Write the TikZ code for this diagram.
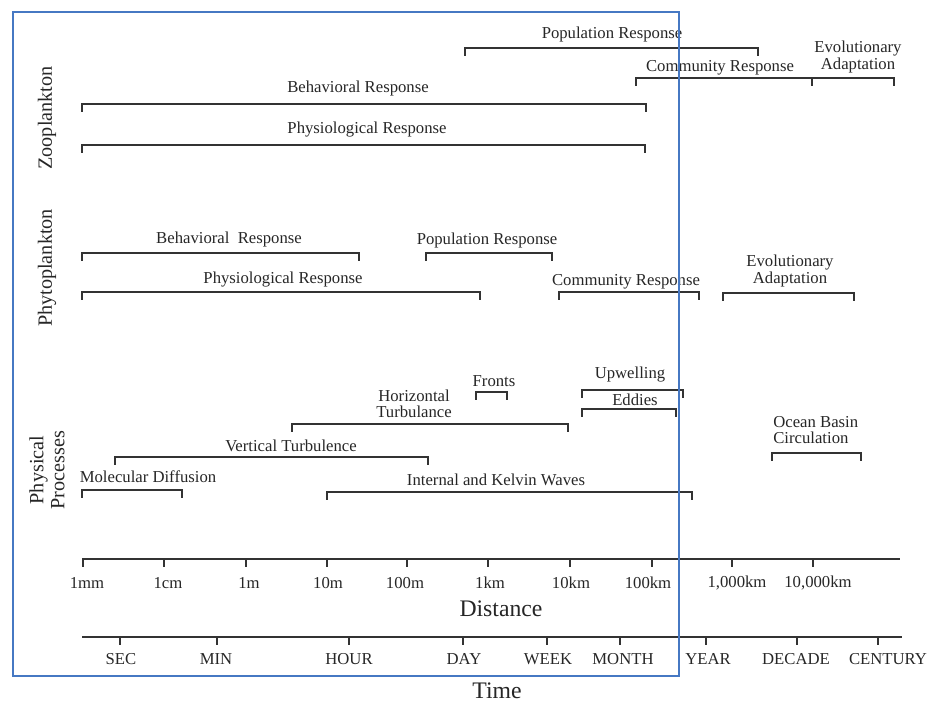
\documentclass[tikz,border=0pt]{standalone}
\usepackage{fontspec}
\setmainfont{Liberation Serif}
\usetikzlibrary{positioning}

\definecolor{frameblue}{RGB}{70,120,195}
\newcommand{\lblfont}{\fontsize{9.5}{9.2}\selectfont}
\newcommand{\axfont}{\fontsize{13.5}{14}\selectfont}
\newcommand{\sidefont}{\fontsize{11.5}{12}\selectfont}

\begin{document}
\begin{tikzpicture}[x=0.02cm,y=-0.02cm,
        span/.style={line width=0.8pt,draw=black!80},
        label node/.style={font=\lblfont,inner sep=0pt,align=center,text=black!85},
        side node/.style={font=\sidefont,inner sep=0pt,align=center,rotate=90,text=black!85},
        axis node/.style={font=\axfont,inner sep=0pt,text=black!85}]

        \useasboundingbox (0,0) rectangle (937,702);

        % Define ranges
        \foreach \n/\a/\b/\y in {zpop/465/758/48, zcom/636/812/78, zevo/812/894/78,
                zbeh/82/646/104, zphy/82/645/145,
                pbeh/82/359/253, pphy/82/480/292, ppop/426/552/253,
                pcom/559/699/292, pevo/723/854/293,
                mdif/82/182/490, vtur/115/428/457, htur/292/568/424,
                frnt/476/507/392, upw/582/683/390, edd/582/676/409,
                ikw/327/692/492, obc/772/861/453} {
            \coordinate (\n L) at (\a,\y);
            \coordinate (\n R) at (\b,\y);
            \draw[span] (\n L) ++(0,8) -- (\n L) -- (\n R) -- ++(0,8);
        }

        % Zooplankton
        \node[side node] (zoo) at (47,118) {Zooplankton};
        \node[label node] (zpopT) at (612,34) {Population Response};
        \node[label node] (zcomT) at (720,68) {Community Response};
        \node[label node] (zevoT) at (858,57) {Evolutionary\\Adaptation};
        \node[label node] (zbehT) at (358,88) {Behavioral Response};
        \node[label node] (zphyT) at (367,130) {Physiological Response};

        % Phytoplankton
        \node[side node] (phyto) at (47,268) {Phytoplankton};
        \node[label node] (pbehT) at (229,239) {Behavioral\ \ Response};
        \node[label node] (pphyT) at (283,280) {Physiological Response};
        \node[label node] (ppopT) at (487,240) {Population Response};
        \node[label node] (pcomT) at (626,282) {Community Response};
        \node[label node] (pevoT) at (790,271) {Evolutionary\\Adaptation};

        % Physical processes
        \node[side node] (phys) at (47,470) {Physical\\Processes};
        \node[label node] (mdifT) at (148,477) {Molecular Diffusion};
        \node[label node] (vturT) at (291,446) {Vertical Turbulence};
        \node[label node] (hturT) at (414,404) {Horizontal\\Turbulance};
        \node[label node] (frntT) at (494,381) {Fronts};
        \node[label node] (upwT) at (630,375) {Upwelling};
        \node[label node] (eddT) at (635,400) {Eddies};
        \node[label node] (ikwT) at (496,480) {Internal and Kelvin Waves};
        \node[label node,align=left,anchor=west] (obcT) at (773,430) {Ocean Basin\\Circulation};

        % Distance axis
        \coordinate (distL) at (82,559);
        \coordinate (distR) at (900,559);
        \draw[span] (distL) -- (distR);
        \foreach \x/\lx/\t [count=\i] in {83/87/1mm, 164/168/1cm, 246/249/1m, 327/328/10m,
                407/405/100m, 488/490/1km, 570/571/10km, 652/648/100km,
                732/737/{1,000km}, 813/818/{10,000km}} {
            \draw[span] (\x,559) -- (\x,567);
            \node[label node] (dist\i) at (\lx,583) {\t};
        }
        \node[axis node] (distance) at (501,609) {Distance};

        % Time axis
        \coordinate (timeL) at (82,637);
        \coordinate (timeR) at (902,637);
        \draw[span] (timeL) -- (timeR);
        \foreach \x/\lx/\t [count=\i] in {120/121/SEC, 217/216/MIN, 349/349/HOUR,
                463/464/DAY, 547/548/WEEK, 620/623/MONTH, 706/708/YEAR,
                797/796/DECADE, 878/888/CENTURY} {
            \draw[span] (\x,637) -- (\x,645);
            \node[label node] (time\i) at (\lx,659) {\t};
        }
        \node[axis node] (time) at (497,691) {Time};

        % Frame
        \draw[frameblue,line width=1.4pt] (13,12) rectangle (679,676);

\end{tikzpicture}
\end{document}
